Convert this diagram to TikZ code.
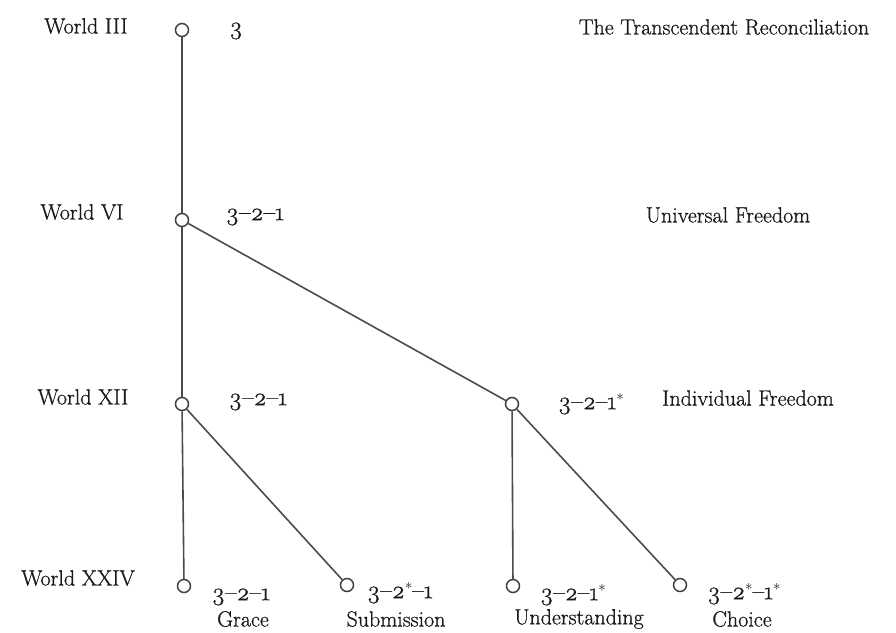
\documentclass[tikz,border=0pt]{standalone}
\usepackage{fontspec}
\setmainfont{Latin Modern Roman}[UprightFeatures={FakeBold=0.8}]
\begin{document}
\begin{tikzpicture}[x=1pt,y=-1pt,
  dot/.style={circle,draw=black!75,fill=white,line width=1.5pt,minimum size=13pt,inner sep=0pt},
  edge/.style={draw=black!70,line width=1.6pt},
  lbl/.style={inner sep=0pt,text=black!90,font=\fontsize{22}{26}\selectfont},
  code/.style={inner sep=0pt,text=black!90,font=\fontsize{25}{28}\selectfont}]
\useasboundingbox (0,0) rectangle (896,632);
\newcommand{\os}[1]{\oldstylenums{#1}}
\newcommand{\st}{\raisebox{0.35em}{\scalebox{0.6}{$\ast$}}}
% nodes
\node[dot] (w3) at (182,30) {};
\node[dot] (w6) at (182,220) {};
\node[dot] (w12) at (182,404) {};
\node[dot] (ind) at (512,404) {};
\node[dot] (gr) at (184,586) {};
\node[dot] (sub) at (347,585) {};
\node[dot] (und) at (513,586) {};
\node[dot] (cho) at (680,585) {};
% edges
\draw[edge] (w3) -- (w6);
\draw[edge] (w6) -- (w12);
\draw[edge] (w6) -- (ind);
\draw[edge] (w12) -- (gr);
\draw[edge] (w12) -- (sub);
\draw[edge] (ind) -- (und);
\draw[edge] (ind) -- (cho);
% world labels
\node[lbl] (l3) at (86,26) {World III};
\node[lbl] (l6) at (82,212) {World VI};
\node[lbl] (l12) at (83,397) {World XII};
\node[lbl] (l24) at (78,578) {World XXIV};
% codes
\node[code] (c3) at (236,31) {\os{3}};
\node[code] (c6) at (255,217) {\os{3}--\os{2}--\os{1}};
\node[code] (c12) at (258,402) {\os{3}--\os{2}--\os{1}};
\node[code] (cind) at (591,404) {\os{3}--\os{2}--\os{1}\st};
\node[code] (cgr) at (241,597) {\os{3}--\os{2}--\os{1}};
\node[code] (csub) at (400,593) {\os{3}--\os{2}\st--\os{1}};
\node[code] (cund) at (573,595) {\os{3}--\os{2}--\os{1}\st};
\node[code] (ccho) at (744,594) {\os{3}--\os{2}\st--\os{1}\st};
% names
\node[lbl] (n3) at (724,27) {The Transcendent Reconciliation};
\node[lbl] (n6) at (728,215) {Universal Freedom};
\node[lbl] (nind) at (748,398) {Individual Freedom};
\node[lbl] (ngr) at (243,619) {Grace};
\node[lbl] (nsub) at (396,619) {Submission};
\node[lbl] (nund) at (579,619) {Understanding};
\node[lbl] (ncho) at (742,619) {Choice};
\end{tikzpicture}
\end{document}
